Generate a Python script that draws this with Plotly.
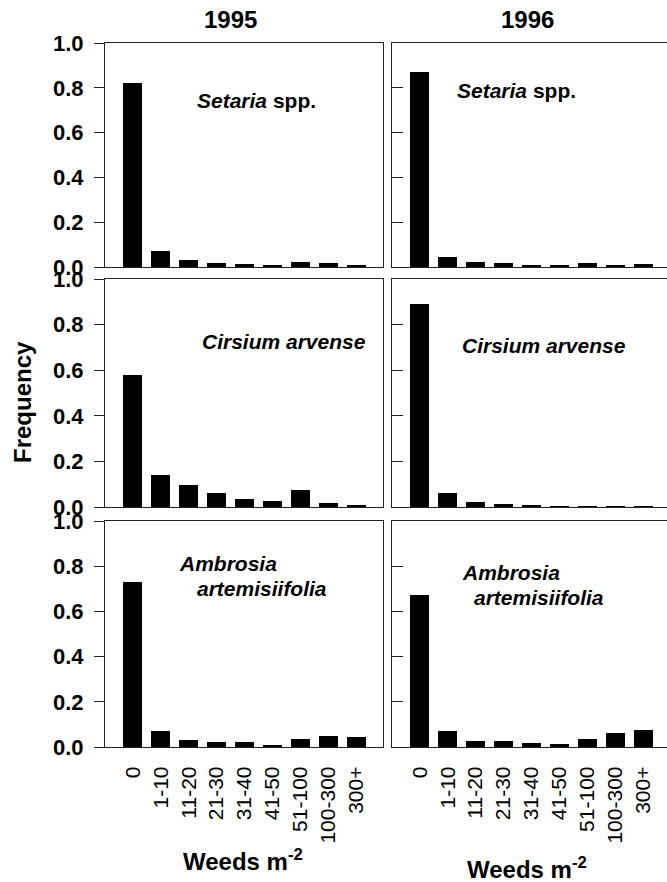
import plotly.graph_objects as go
from plotly.subplots import make_subplots

categories = ["0", "1-10", "11-20", "21-30", "31-40", "41-50", "51-100", "100-300", "300+"]
years = ["1995", "1996"]
species = ["Setaria spp.", "Cirsium arvense", "Ambrosia artemisiifolia"]

setaria_1995 = [0.82, 0.07, 0.032, 0.018, 0.012, 0.007, 0.022, 0.016, 0.01]
setaria_1996 = [0.87, 0.045, 0.022, 0.017, 0.008, 0.005, 0.02, 0.008, 0.012]
cirsium_1995 = [0.58, 0.14, 0.097, 0.062, 0.037, 0.027, 0.074, 0.019, 0.006]
cirsium_1996 = [0.89, 0.06, 0.024, 0.011, 0.006, 0.003, 0.004, 0.001, 0.001]
ambrosia_1995 = [0.73, 0.071, 0.029, 0.02, 0.02, 0.011, 0.036, 0.05, 0.043]
ambrosia_1996 = [0.674, 0.073, 0.027, 0.025, 0.019, 0.015, 0.034, 0.063, 0.075]

data = [
    [setaria_1995, setaria_1996],
    [cirsium_1995, cirsium_1996],
    [ambrosia_1995, ambrosia_1996],
]

FONT = "Arial, Liberation Sans, sans-serif"
W, H = 667, 882

fig = make_subplots(rows=3, cols=2)

# pixel geometry
row_px = [(43, 267), (279, 507), (521, 747)]
col_px = [(105, 383), (392, 667)]
xranges = [[-1, 8.96], [-1, 8.86]]

for r in range(3):
    for c in range(2):
        xs = list(range(len(categories)))
        fig.add_trace(
            go.Bar(x=xs, y=data[r][c], width=0.68,
                   marker=dict(color="black", line=dict(width=0)),
                   showlegend=False),
            row=r + 1, col=c + 1)
        idx = r * 2 + c + 1
        xa = "xaxis" if idx == 1 else f"xaxis{idx}"
        ya = "yaxis" if idx == 1 else f"yaxis{idx}"
        top, bot = row_px[r]
        left, right = col_px[c]
        fig.layout[ya].update(
            domain=[1 - bot / H, 1 - top / H],
            range=[0, 1.0],
            tickvals=[0, 0.2, 0.4, 0.6, 0.8, 1.0],
            ticktext=["0.0", "0.2", "0.4", "0.6", "0.8", "1.0"],
            showticklabels=(c == 0),
            ticks="outside" if c == 0 else "inside",
            ticklen=10 if c == 0 else 11,
            tickwidth=1.2,
            tickcolor="#222",
            ticklabelstandoff=6,
            tickfont=dict(family=FONT, size=22, color="black", weight="bold"),
            showgrid=False, zeroline=False,
            showline=True, linecolor="#222", linewidth=1.2,
            mirror=(c == 0),
            automargin=False,
        )
        fig.layout[xa].update(
            domain=[left / W, right / W],
            range=xranges[c],
            tickvals=xs,
            ticktext=categories,
            showticklabels=(r == 2),
            ticks="",
            tickangle=-90,
            ticklabelstandoff=10,
            tickfont=dict(family=FONT, size=21, color="black"),
            showgrid=False, zeroline=False,
            showline=True, linecolor="#222", linewidth=1.2,
            mirror=True,
            automargin=False,
        )

def ann(text, x, y, xref="paper", yref="paper", size=21, xanchor="center", yanchor="middle", angle=0):
    fig.add_annotation(text=text, x=x, y=y, xref=xref, yref=yref, showarrow=False,
                       xanchor=xanchor, yanchor=yanchor, textangle=angle,
                       font=dict(family=FONT, size=size, color="black", weight="bold"))

# column titles
ann(years[0], 230 / W, 1 - 20 / H, size=24)
ann(years[1], 527 / W, 1 - 20 / H, size=24)
# y title
ann("Frequency", 22 / W, 1 - 402 / H, size=24, angle=-90)
# x titles
ann("Weeds m<sup>-2</sup>", 243 / W, 1 - 860 / H, size=24)
ann("Weeds m<sup>-2</sup>", 527 / W, 1 - 868 / H, size=24)

# species labels (axis coordinates)
ann("<i>Setaria</i> spp.", 2.23, 0.745, xref="x", yref="y", xanchor="left")
ann("<i>Setaria</i> spp.", 1.26, 0.79, xref="x2", yref="y2", xanchor="left")
ann("<i>Cirsium arvense</i>", 2.40, 0.724, xref="x3", yref="y3", xanchor="left")
ann("<i>Cirsium arvense</i>", 1.44, 0.71, xref="x4", yref="y4", xanchor="left")
ann("<i>Ambrosia</i>", 1.58, 0.814, xref="x5", yref="y5", xanchor="left")
ann("<i>artemisiifolia</i>", 2.23, 0.70, xref="x5", yref="y5", xanchor="left")
ann("<i>Ambrosia</i>", 1.44, 0.77, xref="x6", yref="y6", xanchor="left")
ann("<i>artemisiifolia</i>", 1.87, 0.66, xref="x6", yref="y6", xanchor="left")

fig.update_layout(
    template="none",
    width=W, height=H,
    margin=dict(l=0, r=0, t=0, b=0, autoexpand=False),
    paper_bgcolor="white", plot_bgcolor="white",
    bargap=0,
    font=dict(family=FONT, color="black"),
)

fig.write_html("out.html")
